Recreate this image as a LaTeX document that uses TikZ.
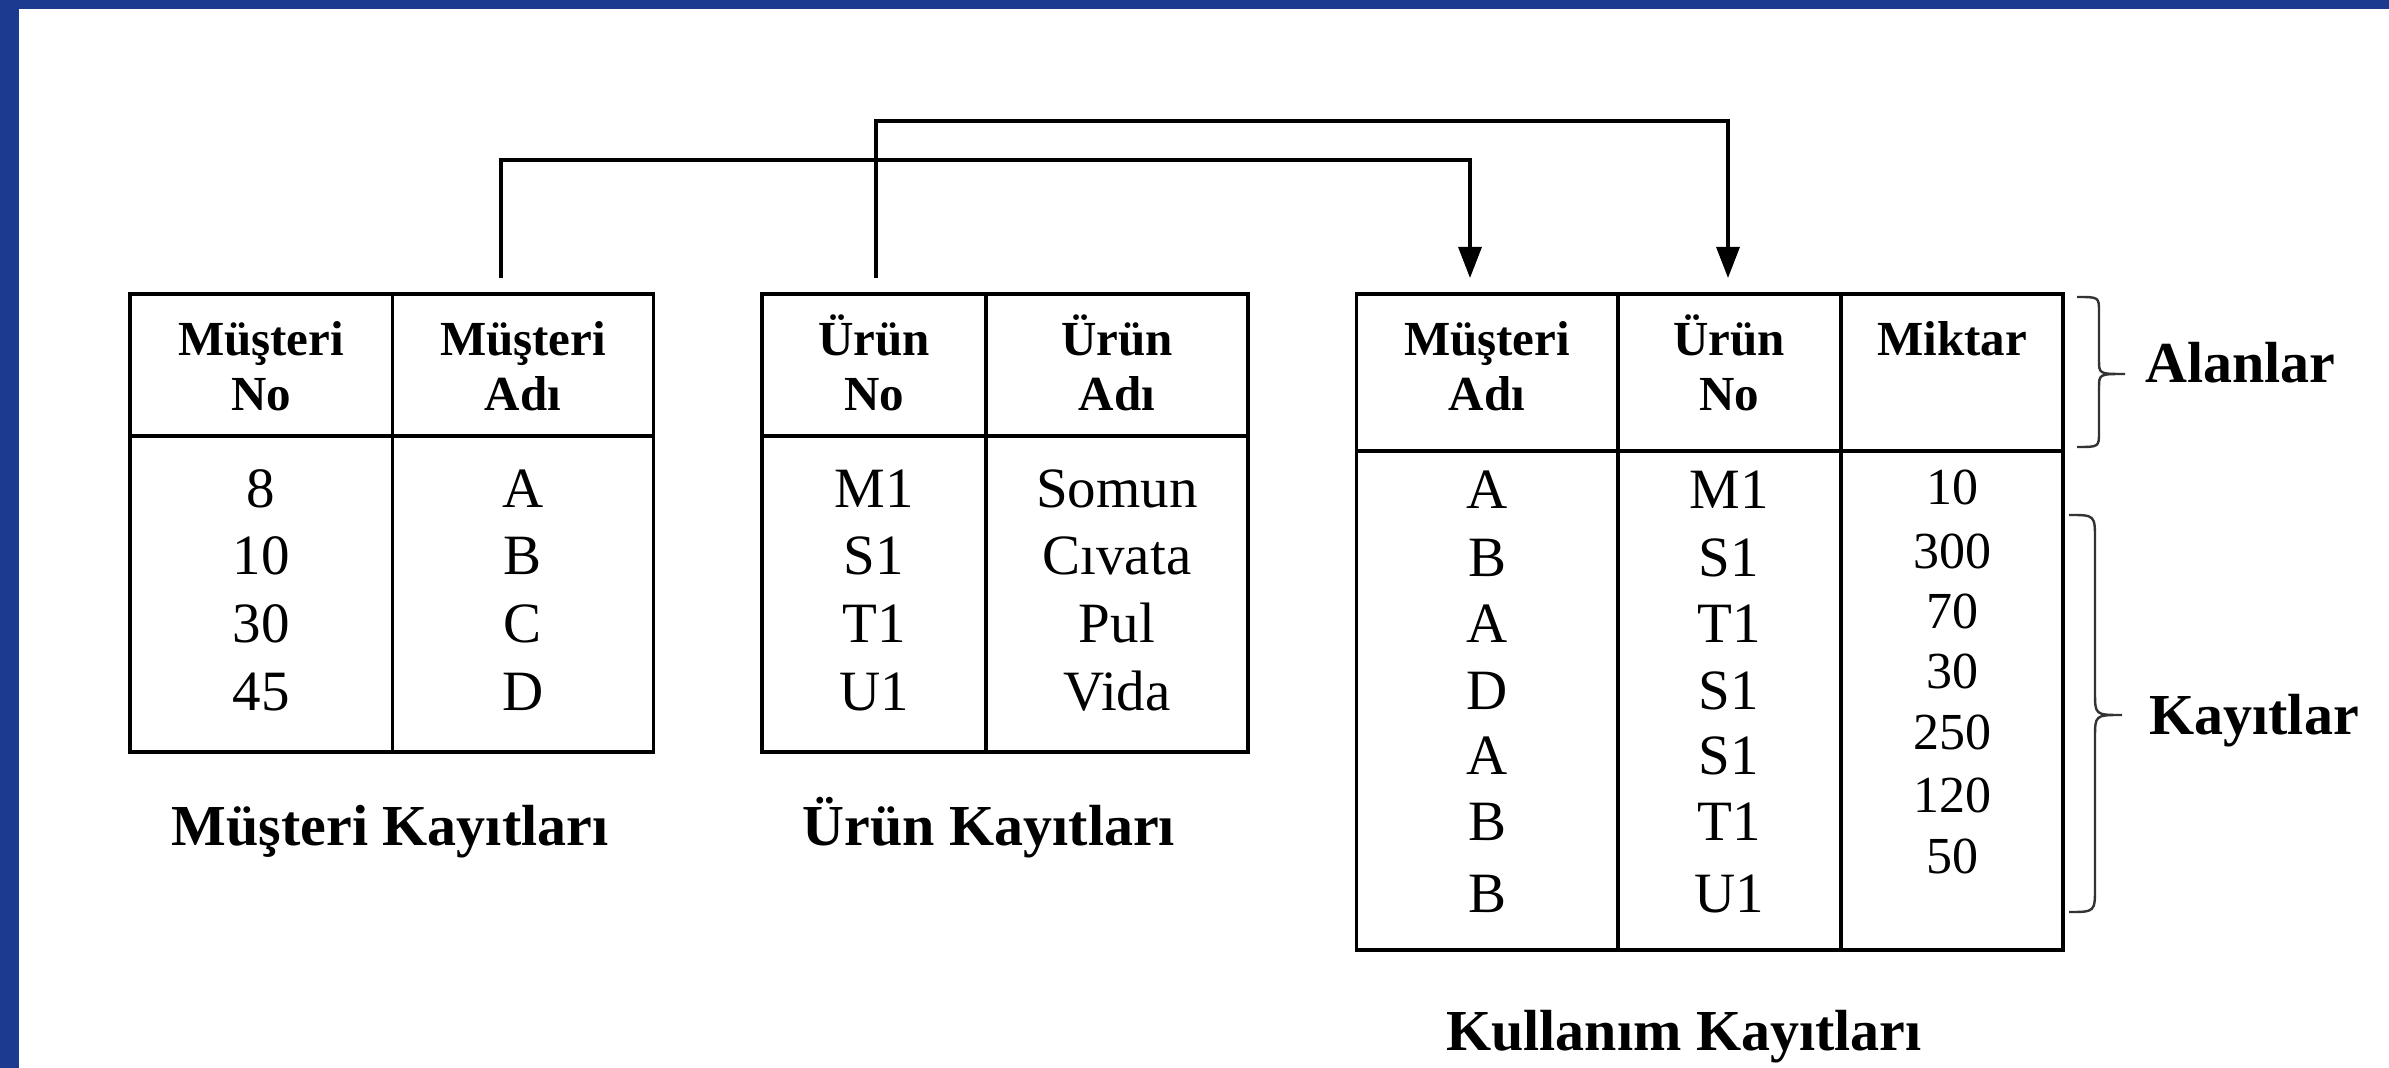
\documentclass[tikz,border=0pt]{standalone}
\usepackage{fontspec}
\setmainfont{Liberation Serif}
\usetikzlibrary{arrows.meta}
\definecolor{frameblue}{RGB}{28,58,143}
\begin{document}
\begin{tikzpicture}[x=0.5pt,y=-0.5pt,
  grid/.style={line width=1.65pt, black},
  link/.style={line width=1.6pt, black},
  linkarrow/.style={link, -{Triangle[length=15.5pt,width=11.5pt]}},
  hdr/.style={anchor=base, inner sep=0pt, font=\fontsize{24.5}{26}\selectfont\bfseries},
  val/.style={anchor=base, inner sep=0pt, font=\fontsize{28.5}{30}\selectfont},
  num/.style={anchor=base, inner sep=0pt, font=\fontsize{26}{28}\selectfont},
  captxt/.style={anchor=base, inner sep=0pt, font=\fontsize{29}{31}\selectfont\bfseries},
  sidetxt/.style={anchor=base west, inner sep=0pt, font=\fontsize{29}{31}\selectfont\bfseries},
  bracepath/.style={line width=1.2pt, black!80}]
\useasboundingbox (0,0) rectangle (2389,1068);
\fill[white] (0,0) rectangle (2389,1068);
\fill[frameblue] (0,0) rectangle (2389,9);
\fill[frameblue] (0,0) rectangle (19,1068);

% ---- Table 1: Musteri Kayitlari
\draw[grid] (130,294) rectangle (653.6,752);
\draw[grid] (130,436) -- (653.6,436);
\draw[grid] (392.4,294) -- (392.4,752);
\node[hdr] (t1h1a) at (261,356) {Müşteri};
\node[hdr] (t1h1b) at (261,411) {No};
\node[hdr] (t1h2a) at (523,356) {Müşteri};
\node[hdr] (t1h2b) at (523,411) {Adı};
\foreach \v/\w/\y [count=\i] in {8/A/507.6, 10/B/575, 30/C/642.6, 45/D/710.6}{
  \node[val] (t1a\i) at (261,\y) {\v};
  \node[val] (t1b\i) at (523,\y) {\w};
}
\node[captxt] (lab1) at (390,845.7) {Müşteri Kayıtları};

% ---- Table 2: Urun Kayitlari
\draw[grid] (762,294) rectangle (1248,752);
\draw[grid] (762,436) -- (1248,436);
\draw[grid] (986,294) -- (986,752);
\node[hdr] (t2h1a) at (874,356) {Ürün};
\node[hdr] (t2h1b) at (874,411) {No};
\node[hdr] (t2h2a) at (1117,356) {Ürün};
\node[hdr] (t2h2b) at (1117,411) {Adı};
\foreach \v/\w/\y [count=\i] in {M1/Somun/507.6, S1/Cıvata/575, T1/Pul/642.6, U1/Vida/710.6}{
  \node[val] (t2a\i) at (874,\y) {\v};
  \node[val] (t2b\i) at (1117,\y) {\w};
}
\node[captxt] (lab2) at (989,845.7) {Ürün Kayıtları};

% ---- Table 3: Kullanim Kayitlari
\draw[grid] (1356.7,294) rectangle (2063,950);
\draw[grid] (1356.7,451) -- (2063,451);
\draw[grid] (1618,294) -- (1618,950);
\draw[grid] (1841,294) -- (1841,950);
\node[hdr] (t3h1a) at (1487,356) {Müşteri};
\node[hdr] (t3h1b) at (1487,411) {Adı};
\node[hdr] (t3h2a) at (1729,356) {Ürün};
\node[hdr] (t3h2b) at (1729,411) {No};
\node[hdr] (t3h3a) at (1952,356) {Miktar};
\foreach \v/\w/\y [count=\i] in {A/M1/508.7, B/S1/576.5, A/T1/642.5, D/S1/710, A/S1/774.5, B/T1/840.5, B/U1/912.3}{
  \node[val] (t3a\i) at (1487,\y) {\v};
  \node[val] (t3b\i) at (1729,\y) {\w};
}
\foreach \v/\y [count=\i] in {10/505, 300/569, 70/629, 30/689, 250/749.3, 120/812.7, 50/873.3}{
  \node[num] (t3c\i) at (1952,\y) {\v};
}
\node[captxt] (lab3) at (1684,1050) {Kullanım Kayıtları};

% ---- braces
\draw[bracepath] (2077,297) .. controls (2099,297) .. (2099,312) -- (2099,360)
  .. controls (2099,374) .. (2125,374) .. controls (2099,374) .. (2099,388)
  -- (2099,432) .. controls (2099,447) .. (2077,447);
\node[sidetxt] (alan) at (2145,383) {Alanlar};
\draw[bracepath] (2069,515) .. controls (2095,515) .. (2095,540) -- (2095,692)
  .. controls (2095,715) .. (2122,715) .. controls (2095,715) .. (2095,738)
  -- (2095,887) .. controls (2095,912) .. (2069,912);
\node[sidetxt] (kayit) at (2149,735) {Kayıtlar};

% ---- connectors
\coordinate (c1s) at (501,278);
\coordinate (c1e) at (1470,278);
\coordinate (c2s) at (876,278);
\coordinate (c2e) at (1728,278);
\draw[linkarrow] (c1s) -- (501,160) -| (c1e);
\draw[linkarrow] (c2s) -- (876,121) -| (c2e);
\end{tikzpicture}
\end{document}
